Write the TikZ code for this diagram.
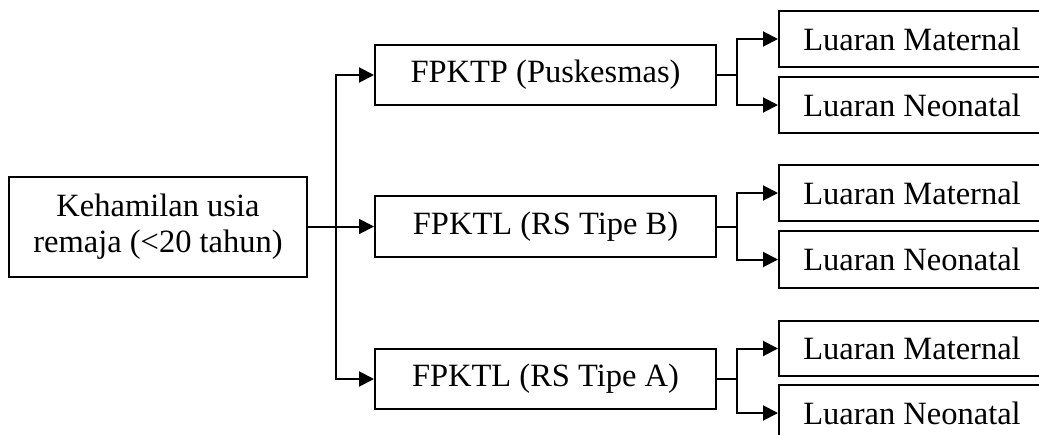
\documentclass[tikz,border=0pt]{standalone}
\usepackage{fontspec}
\setmainfont{Liberation Serif}
\usetikzlibrary{arrows.meta}
\begin{document}
\begin{tikzpicture}[x=1pt,y=-1pt,
  box/.style={draw,line width=2pt,inner sep=0pt,align=center,font=\fontsize{32.5}{36}\selectfont},
  conn/.style={line width=2pt},
  arr/.style={conn,-{Triangle[length=15pt,width=15pt]}}]
\clip (0,0) rectangle (1039,434);
\useasboundingbox (0,0) rectangle (1039,434);
\node[box,minimum width=298pt,minimum height=100pt] (k) at (158,227) {Kehamilan usia\\remaja (<20 tahun)};
\node[box,minimum width=341pt,minimum height=60pt] (p) at (545.5,75) {FPKTP (Puskesmas)};
\node[box,minimum width=341pt,minimum height=61pt] (b) at (545.5,226.5) {FPKTL (RS Tipe B)};
\node[box,minimum width=341pt,minimum height=60pt] (a) at (545.5,379) {FPKTL (RS Tipe A)};
\node[box,minimum width=266pt,minimum height=56pt] (m1) at (912,39) {Luaran Maternal};
\node[box,minimum width=266pt,minimum height=56pt] (n1) at (912,105) {Luaran Neonatal};
\node[box,minimum width=266pt,minimum height=56pt] (m2) at (912,193) {Luaran Maternal};
\node[box,minimum width=266pt,minimum height=57pt] (n2) at (912,259.5) {Luaran Neonatal};
\node[box,minimum width=266pt,minimum height=55pt] (m3) at (912,348.5) {Luaran Maternal};
\node[box,minimum width=266pt,minimum height=56pt] (n3) at (912,413) {Luaran Neonatal};
\coordinate (j) at (336,226.5);
\draw[arr] (k.east |- j) -- (b.west);
\draw[arr] (j) |- (p.west);
\draw[arr] (j) |- (a.west);
\coordinate (j1) at (737,75);
\coordinate (j2) at (737,226.5);
\coordinate (j3) at (737,379);
\draw[conn] (p.east) -- (j1);
\draw[conn] (b.east) -- (j2);
\draw[conn] (a.east) -- (j3);
\draw[arr] (j1) |- (m1.west);
\draw[arr] (j1) |- (n1.west);
\draw[arr] (j2) |- (m2.west);
\draw[arr] (j2) |- (n2.west);
\draw[arr] (j3) |- (m3.west);
\draw[arr] (j3) |- (n3.west);
\end{tikzpicture}
\end{document}
